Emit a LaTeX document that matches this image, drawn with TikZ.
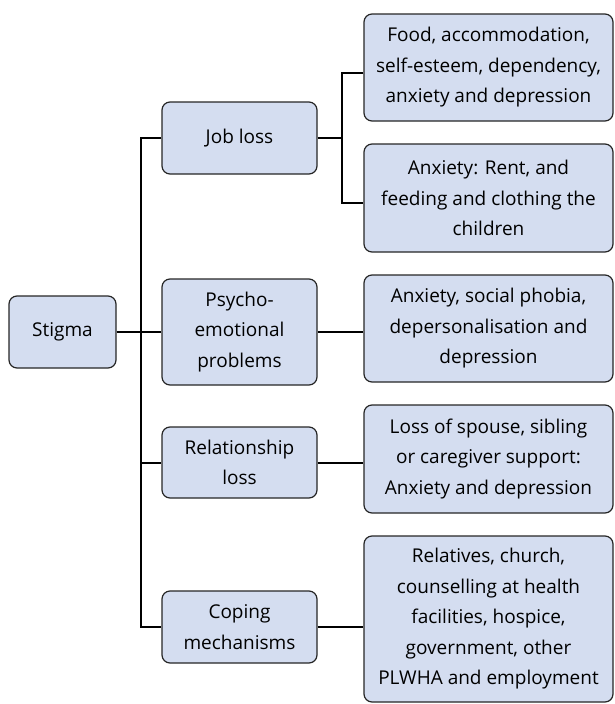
\documentclass[tikz,border=0pt]{standalone}
\usepackage{fontspec}
\setmainfont{Open Sans}
\usetikzlibrary{calc, positioning}
\definecolor{boxfill}{RGB}{212,221,240}

\begin{document}
\begin{tikzpicture}[x=1pt,y=-1pt,-,line width=2pt,
                    main node/.style={rectangle,rounded corners=8pt,draw=black!85,line width=1.2pt,
                      fill=boxfill,align=center,inner sep=0pt,font=\fontsize{19}{30.5}\selectfont},
                    mid node/.style={main node,minimum width=155pt},
                    end node/.style={main node,minimum width=249pt}]

  \useasboundingbox (0,0) rectangle (614,704);

  \node[main node,minimum width=107pt,minimum height=72pt] (stigma) at (62.5,332) {Stigma};

  \node[mid node,minimum height=72pt] (job) at (239.5,138) {Job loss};
  \node[mid node,minimum height=106pt] (psycho) at (239.5,332) {Psycho-\\emotional\\problems};
  \node[mid node,minimum height=71pt] (rel) at (239.5,462.5) {Relationship\\loss};
  \node[mid node,minimum height=72pt] (coping) at (239.5,627) {Coping\\mechanisms};

  \node[end node,minimum height=107pt] (food) at (488.5,67.5)
    {Food, accommodation,\\self-esteem, dependency,\\anxiety and depression};
  \node[end node,minimum height=108pt] (rent) at (488.5,198)
    {Anxiety: Rent, and\\feeding and clothing the\\children};
  \node[end node,minimum height=107pt] (phobia) at (488.5,328.5)
    {Anxiety, social phobia,\\depersonalisation and\\depression};
  \node[end node,minimum height=108pt] (spouse) at (488.5,459)
    {Loss of spouse, sibling\\or caregiver support:\\Anxiety and depression};
  \node[end node,minimum height=166pt] (relatives) at (488.5,619)
    {Relatives, church,\\counselling at health\\facilities, hospice,\\government, other\\PLWHA and employment};

  % left spine
  \draw (stigma.east) -- ++(24,0) coordinate (spine);
  \draw (job.west) -| (spine) |- (coping.west);
  \draw (stigma.east) -- (psycho.west);
  \draw (rel.west -| spine) -- (rel.west);

  % right side
  \draw (job.east) -- ++(24,0) coordinate (fork);
  \draw ([yshift=-5.5pt]food.west) -| (fork) |- ([yshift=-5pt]rent.west);
  \path
    (psycho.east) edge (psycho.east -| phobia.west)
    (rel.east) edge (rel.east -| spouse.west)
    (coping.east) edge (coping.east -| relatives.west);

\end{tikzpicture}
\end{document}
